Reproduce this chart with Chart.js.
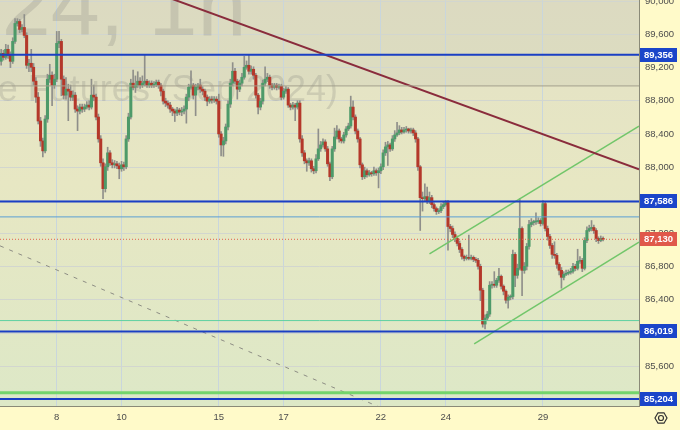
<!DOCTYPE html>
<html>
<head>
<meta charset="utf-8">
<script src="https://cdn.jsdelivr.net/npm/chart.js@4.4.1/dist/chart.umd.min.js"></script>
<style>
  html, body { margin: 0; padding: 0; background: #fffac9; }
  #wrap { width: 680px; height: 430px; }
</style>
</head>
<body>
<div id="wrap"><canvas id="myChart"></canvas></div>
<script>
// hourly bars, index 0 = first bar on screen
var opens = [89276,89372,89324,89420,89348,89276,89516,89732,89756,89660,
89684,89588,89228,89252,89204,89036,88844,88556,88316,88196,
88580,89060,89108,88988,89060,89492,89516,89060,88868,88940,
88916,88844,88868,88700,88676,88724,88700,88724,88748,88724,
88868,88844,88604,88340,88052,87740,88004,88172,88052,88028,
88040,88016,87980,88028,88004,88340,88604,89012,88964,88988,
89036,88988,89012,89036,88988,89012,88988,89000,89024,88988,
88916,88796,88772,88748,88700,88676,88652,88688,88664,88676,
88700,88844,88964,88988,88868,88964,88988,88940,88916,88844,
88796,88820,88808,88820,88796,88400,88268,88316,88484,88760,
89012,89156,89036,88940,89012,89084,89204,89228,89156,89180,
89108,88868,88724,88796,89012,89060,89084,88988,88964,88988,
88964,88976,88844,88916,88940,88748,88724,88748,88724,88772,
88340,88172,88076,88052,88076,87980,87956,88100,88220,88268,
88304,88220,88040,87884,88220,88364,88436,88340,88316,88388,
88460,88496,88724,88604,88436,88340,88028,87884,87956,87908,
87932,87920,87956,87932,87956,88004,88172,88244,88268,88220,
88340,88388,88412,88448,88424,88448,88460,88436,88448,88412,
88340,88004,87632,87620,87644,87596,87632,87548,87500,87464,
87476,87524,87548,87572,87284,87260,87188,87140,87080,87008,
86924,86900,86912,86900,86912,86888,86876,86804,86516,86108,
86180,86228,86576,86588,86576,86636,86684,86564,86504,86396,
86432,86440,86948,86696,86780,87260,86756,86804,87044,87308,
87332,87340,87344,87356,87320,87560,87260,87164,87056,86948,
86936,86828,86756,86672,86708,86720,86732,86744,86804,86780,
86864,86876,86780,87116,87236,87260,87272,87236,87140,87116,
87140];
var highs = [89420,89410,89480,89470,89390,89560,89792,89790,89780,89720,
89840,89620,89300,89420,89250,89080,88900,88600,88350,88620,
89120,89240,89150,89120,89636,89636,89540,89100,89080,89000,
88990,88920,88900,88740,88760,88760,88760,88790,88800,89060,
88990,88880,88640,88380,88100,88040,88240,88200,88090,88080,
88070,88050,88070,88060,88380,88650,89060,89170,89100,89150,
89080,89100,89360,89060,89040,89040,89030,89050,89050,89010,
88940,88830,88800,88780,88720,88700,88720,88710,88720,88740,
88880,89000,89160,89010,89000,89010,89060,88970,88940,88870,
88850,88850,88850,88850,88880,88430,88360,88520,88800,89060,
89260,89190,89060,89050,89130,89336,89280,89360,89220,89210,
89130,88890,88830,89050,89210,89130,89110,89010,89010,89010,
89000,89000,88950,88970,88960,88770,88780,88770,88800,88800,
88380,88200,88100,88110,88100,88010,88150,88460,88310,88340,
88330,88250,88060,88250,88470,88500,88460,88360,88420,88490,
88530,88856,88800,88630,88460,88360,88050,88000,87980,87960,
87950,88000,87980,87990,88040,88210,88300,88310,88290,88380,
88440,88540,88500,88480,88480,88490,88470,88470,88470,88440,
88360,88020,87700,87800,87760,87700,87660,87570,87520,87500,
87560,87580,87600,87600,87310,87290,87220,87170,87110,87030,
86940,86940,87180,86940,86930,86910,86900,86830,86540,86220,
86260,86620,86620,86740,86660,86780,86700,86580,86520,86460,
86460,87000,86970,86830,87620,87280,86850,87080,87360,87380,
87360,87450,87390,87380,87596,87580,87290,87190,87080,87100,
86960,86850,86790,86740,86760,86760,86780,86840,86830,87010,
86920,86900,87150,87280,87300,87356,87300,87260,87160,87170,
87160];
var lows = [89230,89290,89300,89310,89200,89250,89490,89700,89620,89630,
89560,89190,89150,89150,88990,88780,88520,88250,88124,88170,
88540,89020,88740,88950,89030,89440,88860,88820,88820,88560,
88800,88800,88660,88440,88640,88660,88670,88700,88690,88700,
88800,88570,88300,88010,87620,87700,87960,88020,87990,87990,
87980,87860,87950,87960,87980,88310,88580,88930,88900,88960,
88950,88960,88980,88960,88960,88960,88960,88970,88950,88860,
88760,88730,88710,88660,88620,88550,88620,88630,88620,88640,
88530,88800,88940,88820,88620,88930,88900,88870,88800,88740,
88770,88770,88780,88760,88360,88136,88130,88280,88450,88720,
88980,89000,88820,88910,88980,89060,89180,89120,89120,89060,
88830,88640,88690,88760,88980,89030,88950,88930,88940,88930,
88940,88810,88820,88890,88720,88690,88700,88560,88700,88300,
88130,88040,87950,88020,87940,87920,87930,88080,88190,88240,
88190,88010,87836,87860,88190,88340,88300,88290,88290,88360,
88440,88470,88570,88400,88300,87990,87850,87860,87880,87890,
87890,87900,87900,87750,87920,87970,88140,88020,88190,88200,
88310,88370,88390,88400,88410,88420,88410,88410,88380,88300,
87960,87236,87470,87590,87560,87560,87510,87470,87430,87440,
87450,87500,87530,87000,87220,87150,87100,87050,86970,86890,
86870,86880,86880,86880,86860,86850,86770,86390,86070,86048,
86150,86200,86540,86550,86550,86610,86530,86460,86360,86300,
86400,86410,86560,86660,86760,86450,86720,86760,87010,87280,
87300,87310,87320,87290,87300,87230,87120,87020,86900,86900,
86780,86700,86540,86640,86690,86700,86710,86720,86750,86760,
86840,86740,86760,87090,87220,87230,87200,87100,87080,87100,
87110];
var closes = [89372,89324,89420,89348,89276,89516,89732,89756,89660,89684,
89588,89228,89252,89204,89036,88844,88556,88316,88196,88580,
89060,89108,88988,89060,89492,89516,89060,88868,88940,88916,
88844,88868,88700,88676,88724,88700,88724,88748,88724,88868,
88844,88604,88340,88052,87740,88004,88172,88052,88028,88040,
88016,87980,88028,88004,88340,88604,89012,88964,88988,89036,
88988,89012,89036,88988,89012,88988,89000,89024,88988,88916,
88796,88772,88748,88700,88676,88652,88688,88664,88676,88700,
88844,88964,88988,88868,88964,88988,88940,88916,88844,88796,
88820,88808,88820,88796,88400,88268,88316,88484,88760,89012,
89156,89036,88940,89012,89084,89204,89228,89156,89180,89108,
88868,88724,88796,89012,89060,89084,88988,88964,88988,88964,
88976,88844,88916,88940,88748,88724,88748,88724,88772,88340,
88172,88076,88052,88076,87980,87956,88100,88220,88268,88304,
88220,88040,87884,88220,88364,88436,88340,88316,88388,88460,
88496,88724,88604,88436,88340,88028,87884,87956,87908,87932,
87920,87956,87932,87956,88004,88172,88244,88268,88220,88340,
88388,88412,88448,88424,88448,88460,88436,88448,88412,88340,
88004,87632,87620,87644,87596,87632,87548,87500,87464,87476,
87524,87548,87572,87284,87260,87188,87140,87080,87008,86924,
86900,86912,86900,86912,86888,86876,86804,86516,86108,86180,
86228,86576,86588,86576,86636,86684,86564,86504,86396,86432,
86440,86948,86696,86780,87260,86756,86804,87044,87308,87332,
87340,87344,87356,87320,87560,87260,87164,87056,86948,86936,
86828,86756,86672,86708,86720,86732,86744,86804,86780,86864,
86876,86780,87116,87236,87260,87272,87236,87140,87116,87140,
87130];

// time axis: day labels and the bar where each day starts
var dayLabels = ["8", "10", "15", "17", "22", "24", "29"];
var dayStartBar = [24, 52, 94, 122, 164, 192, 234];

var priceTicks = [90000, 89600, 89200, 88800, 88400, 88000, 87600, 87200, 86800, 86400, 86000, 85600, 85200];

// horizontal levels
var blueLevels = [89356, 87586, 86019, 85204];
var lastPrice = 87130;
var boxBottom = 88979;
var thinBlueLevel = 87400;
var tealLevel = 86150;
var greenLevel = 85279;

// trend lines as [bar, price] pairs
var resistLine = [[70, 90067], [275.5, 87975]];
var channelTop = [[185, 86955], [275.5, 88493]];
var channelBottom = [[204.3, 85870], [275.5, 87096]];
var dashedLine = [[-0.5, 87051], [200, 84673]];

var FONT = "'Liberation Sans', Arial, sans-serif";

var idx = closes.map(function (c, i) { return i; });
var wickData = idx.map(function (i) { return { x: i, y: [lows[i], highs[i]] }; });
var bodyData = idx.map(function (i) { return { x: i, y: [opens[i], closes[i]] }; });
var bodyColors = idx.map(function (i) { return closes[i] >= opens[i] ? "#4d9a69" : "#b4382a"; });

function lineSet(points, color, width, dash) {
  return {
    type: "line",
    data: points.map(function (p) { return { x: p[0], y: p[1] }; }),
    borderColor: color,
    borderWidth: width,
    borderDash: dash || [],
    pointRadius: 0,
    fill: false,
    tension: 0,
    order: 0
  };
}
function levelSet(price, color, width, dash) {
  return lineSet([[-0.5, price], [275.5, price]], color, width, dash);
}

function fmt(n) { return n.toLocaleString("en-US"); }

var decor = {
  id: "decor",
  beforeDraw: function (chart) {
    var ctx = chart.ctx, a = chart.chartArea, ys = chart.scales.y;
    ctx.save();
    ctx.fillStyle = "#fffac9";
    ctx.fillRect(0, 0, chart.width, chart.height);
    var g = ctx.createLinearGradient(0, a.top, 0, a.bottom);
    g.addColorStop(0, "#e3e1c6");
    g.addColorStop(0.45, "#e7e7c3");
    g.addColorStop(1, "#dde8c7");
    ctx.fillStyle = g;
    ctx.fillRect(a.left, a.top, a.right - a.left, a.bottom - a.top);
    var yb = ys.getPixelForValue(boxBottom);
    ctx.fillStyle = "rgba(130,130,130,0.07)";
    ctx.fillRect(a.left, a.top, a.right - a.left, yb - a.top);
    ctx.restore();
  },
  beforeDatasetsDraw: function (chart) {
    var ctx = chart.ctx;
    ctx.save();
    ctx.fillStyle = "rgba(110,110,110,0.2)";
    ctx.textBaseline = "alphabetic";
    ctx.textAlign = "left";
    ctx.font = "88px " + FONT;
    ctx.fillText("SiU24, 1h", -140, 35);
    ctx.textAlign = "right";
    ctx.font = "36px " + FONT;
    ctx.fillText("US Dollar - Russian Ruble Futures (Sep 2024)", 338, 101);
    ctx.restore();
  },
  afterDraw: function (chart) {
    var ctx = chart.ctx, ys = chart.scales.y, a = chart.chartArea;
    ctx.save();
    function box(price, bg) {
      var y = ys.getPixelForValue(price);
      ctx.fillStyle = bg;
      ctx.fillRect(a.right + 1, Math.round(y) - 7, 37, 14);
      ctx.fillStyle = "#ffffff";
      ctx.font = "bold 9.5px " + FONT;
      ctx.textAlign = "left";
      ctx.textBaseline = "middle";
      ctx.fillText(fmt(price), a.right + 5, Math.round(y) + 0.5);
    }
    blueLevels.forEach(function (p) { box(p, "#1b45c9"); });
    box(lastPrice, "#e0584a");
    // settings icon
    var cx = 661, cy = 418, r = 6;
    ctx.strokeStyle = "#333";
    ctx.lineWidth = 1.2;
    ctx.beginPath();
    for (var k = 0; k < 6; k++) {
      var ang = Math.PI / 3 * k;
      var px = cx + r * Math.cos(ang), py = cy + r * Math.sin(ang);
      if (k === 0) ctx.moveTo(px, py); else ctx.lineTo(px, py);
    }
    ctx.closePath();
    ctx.stroke();
    ctx.beginPath();
    ctx.arc(cx, cy, 2.5, 0, Math.PI * 2);
    ctx.stroke();
    ctx.restore();
  }
};

var datasets = [
  levelSet(boxBottom, "#a39f8c", 1),
  levelSet(thinBlueLevel, "#5b9fd4", 1),
  levelSet(tealLevel, "#5fd0a2", 1),
  levelSet(greenLevel, "#74d46c", 3),
  levelSet(lastPrice, "#e2604c", 1, [1, 2])
];
blueLevels.forEach(function (p) { datasets.push(levelSet(p, "#1a3fc4", 2)); });
datasets.push(lineSet(resistLine, "#8a2c3c", 2));
datasets.push(lineSet(channelTop, "#72c66a", 1.5));
datasets.push(lineSet(channelBottom, "#72c66a", 1.5));
datasets.push(lineSet(dashedLine, "#8d8d84", 1, [4, 6]));
datasets.push({
  type: "bar",
  data: bodyData,
  backgroundColor: bodyColors,
  borderWidth: 0,
  barThickness: 2.4,
  minBarLength: 1,
  grouped: false,
  order: 1
});
datasets.push({
  type: "bar",
  data: wickData,
  backgroundColor: "#8f8f8a",
  barThickness: 1,
  grouped: false,
  order: 2
});

var myChart = new Chart(document.getElementById("myChart"), {
  type: "bar",
  data: { datasets: datasets },
  options: {
    responsive: true,
    maintainAspectRatio: false,
    animation: false,
    layout: { padding: 0, autoPadding: false },
    plugins: { legend: { display: false }, tooltip: { enabled: false } },
    scales: {
      x: {
        type: "linear",
        min: -0.5,
        max: 275.5,
        offset: false,
        afterBuildTicks: function (s) {
          s.ticks = dayStartBar.map(function (v) { return { value: v }; });
        },
        afterFit: function (s) {
          s.height = 24;
          s.paddingLeft = 0;
          s.paddingRight = 0;
        },
        ticks: {
          autoSkip: false,
          maxRotation: 0,
          padding: 6,
          color: "#4d4d4d",
          font: { family: FONT, size: 9.5 },
          callback: function (v) {
            var k = dayStartBar.indexOf(v);
            return k >= 0 ? dayLabels[k] : "";
          }
        },
        grid: { color: "#c9d6dc", drawTicks: false, offset: false },
        border: { color: "#8a8a78" }
      },
      y: {
        position: "right",
        min: 85120,
        max: 90015,
        afterBuildTicks: function (s) {
          s.ticks = priceTicks.map(function (v) { return { value: v }; });
        },
        afterFit: function (s) {
          s.width = 41;
          s.paddingTop = 0;
          s.paddingBottom = 0;
        },
        ticks: {
          padding: 6,
          color: "#4d4d4d",
          font: { family: FONT, size: 9.5 },
          callback: function (v) {
            var hidden = blueLevels.some(function (p) { return Math.abs(p - v) < 60; });
            return hidden ? "" : fmt(v);
          }
        },
        grid: { color: "#d2d6cf", drawTicks: false },
        border: { color: "#8a8a78" }
      }
    }
  },
  plugins: [decor]
});
</script>
</body>
</html>
